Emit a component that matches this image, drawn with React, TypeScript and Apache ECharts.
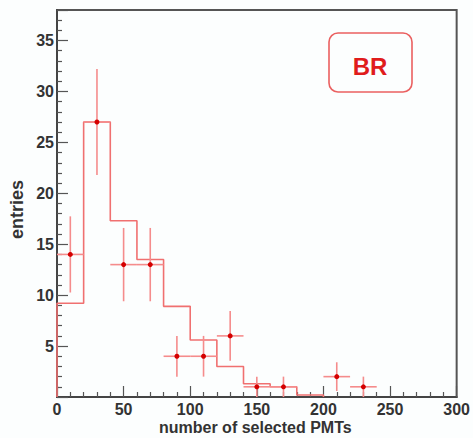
import React, { useEffect, useRef } from "react";
import * as echarts from "echarts";

// Data points (bin centres, counts, vertical errors)
const binCenters = [10, 30, 50, 70, 90, 110, 130, 150, 170, 210, 230];
const counts = [14, 27, 13, 13, 4, 4, 6, 1, 1, 2, 1];
const errors = [3.74, 5.2, 3.6, 3.6, 2.0, 2.0, 2.45, 1.0, 1.0, 1.41, 1.0];
const halfBinWidth = 10;

// Step histogram (bin left edges and heights)
const histEdges = [0, 20, 40, 60, 80, 100, 120, 140, 160, 180, 200];
const histValues = [9.2, 27, 17.3, 13.5, 8.9, 5.6, 3.0, 1.3, 1.0, 0.2, 0];

const xTicks = { min: 0, max: 300, interval: 50 };
const yTicks = { min: 0, max: 38, interval: 5 };

const FONT = "Liberation Sans";

export default function App() {
  const ref = useRef<HTMLDivElement>(null);
  useEffect(() => {
    if (!ref.current) return;
    const chart = echarts.init(ref.current, null, { renderer: "svg" });
    const stepData: [number, number][] = [[0, 0]];
    histEdges.forEach((e, i) => stepData.push([e, histValues[i]]));
    const points = binCenters.map((c, i) => [c, counts[i], errors[i]]);
    chart.setOption({
      animation: false,
      backgroundColor: "#fcfefe",
      grid: {
        left: 57,
        right: 13,
        top: 10,
        bottom: 41,
        show: true,
        borderColor: "#555",
        borderWidth: 2,
        backgroundColor: "transparent",
      },
      xAxis: {
        type: "value",
        min: xTicks.min,
        max: xTicks.max,
        interval: xTicks.interval,
        splitLine: { show: false },
        axisLine: { show: true, lineStyle: { color: "#444", width: 2 } },
        axisTick: { show: true, inside: true, length: 11, lineStyle: { color: "#555", width: 1.2 } },
        minorTick: { show: true, splitNumber: 5, length: 5, lineStyle: { color: "#555", width: 1.2 } },
        axisLabel: {
          color: "#333",
          fontFamily: FONT,
          fontWeight: "bold",
          fontSize: 16,
          margin: 4,
        },
      },
      yAxis: {
        type: "value",
        min: yTicks.min,
        max: yTicks.max,
        interval: yTicks.interval,
        splitLine: { show: false },
        axisLine: { show: true, lineStyle: { color: "#444", width: 2 } },
        axisTick: { show: true, inside: true, length: 11, lineStyle: { color: "#555", width: 1.2 } },
        minorTick: { show: true, splitNumber: 5, length: 5, lineStyle: { color: "#555", width: 1.2 } },
        axisLabel: {
          color: "#333",
          fontFamily: FONT,
          fontWeight: "bold",
          fontSize: 16,
          margin: 3,
          formatter: (v: number) => (v === 0 || v % 5 !== 0 ? "" : String(v)),
        },
      },
      series: [
        {
          type: "line",
          step: "end",
          data: stepData,
          symbol: "none",
          lineStyle: { color: "#f07070", width: 1.6 },
          z: 2,
        },
        {
          type: "custom",
          data: points,
          z: 3,
          renderItem: (params: any, api: any) => {
            const x = api.value(0);
            const y = api.value(1);
            const e = api.value(2);
            const c = api.coord([x, y]);
            const l = api.coord([x - halfBinWidth, y]);
            const r = api.coord([x + halfBinWidth, y]);
            const t = api.coord([x, y + e]);
            const b = api.coord([x, y - e]);
            const st = { stroke: "#f58c8c", lineWidth: 1.6 };
            return {
              type: "group",
              children: [
                { type: "line", shape: { x1: l[0], y1: l[1], x2: r[0], y2: r[1] }, style: st },
                { type: "line", shape: { x1: t[0], y1: t[1], x2: b[0], y2: b[1] }, style: st },
                { type: "circle", shape: { cx: c[0], cy: c[1], r: 2.5 }, style: { fill: "#d40000" } },
              ],
            };
          },
        },
      ],
      graphic: [
        {
          type: "text",
          left: 159,
          top: 419,
          style: {
            text: "number of selected PMTs",
            fill: "#333",
            font: `bold 16px "${FONT}"`,
          },
        },
        {
          type: "text",
          x: 8,
          y: 239,
          rotation: Math.PI / 2,
          style: {
            text: "entries",
            fill: "#333",
            font: `bold 18px "${FONT}"`,
            textAlign: "left",
            textVerticalAlign: "top",
          },
        },
        {
          type: "rect",
          shape: { x: 329, y: 33, width: 83, height: 59, r: 9 },
          style: { fill: "none", stroke: "#ea6060", lineWidth: 1.6 },
        },
        {
          type: "text",
          x: 370,
          y: 66,
          style: {
            text: "BR",
            fill: "#e01c1c",
            font: `bold 24px "${FONT}"`,
            textAlign: "center",
            textVerticalAlign: "middle",
          },
        },
      ],
    });
    return () => chart.dispose();
  }, []);
  return (
    <div
      ref={ref}
      style={{ position: "absolute", left: 0, top: 0, width: 473, height: 438 }}
    />
  );
}
